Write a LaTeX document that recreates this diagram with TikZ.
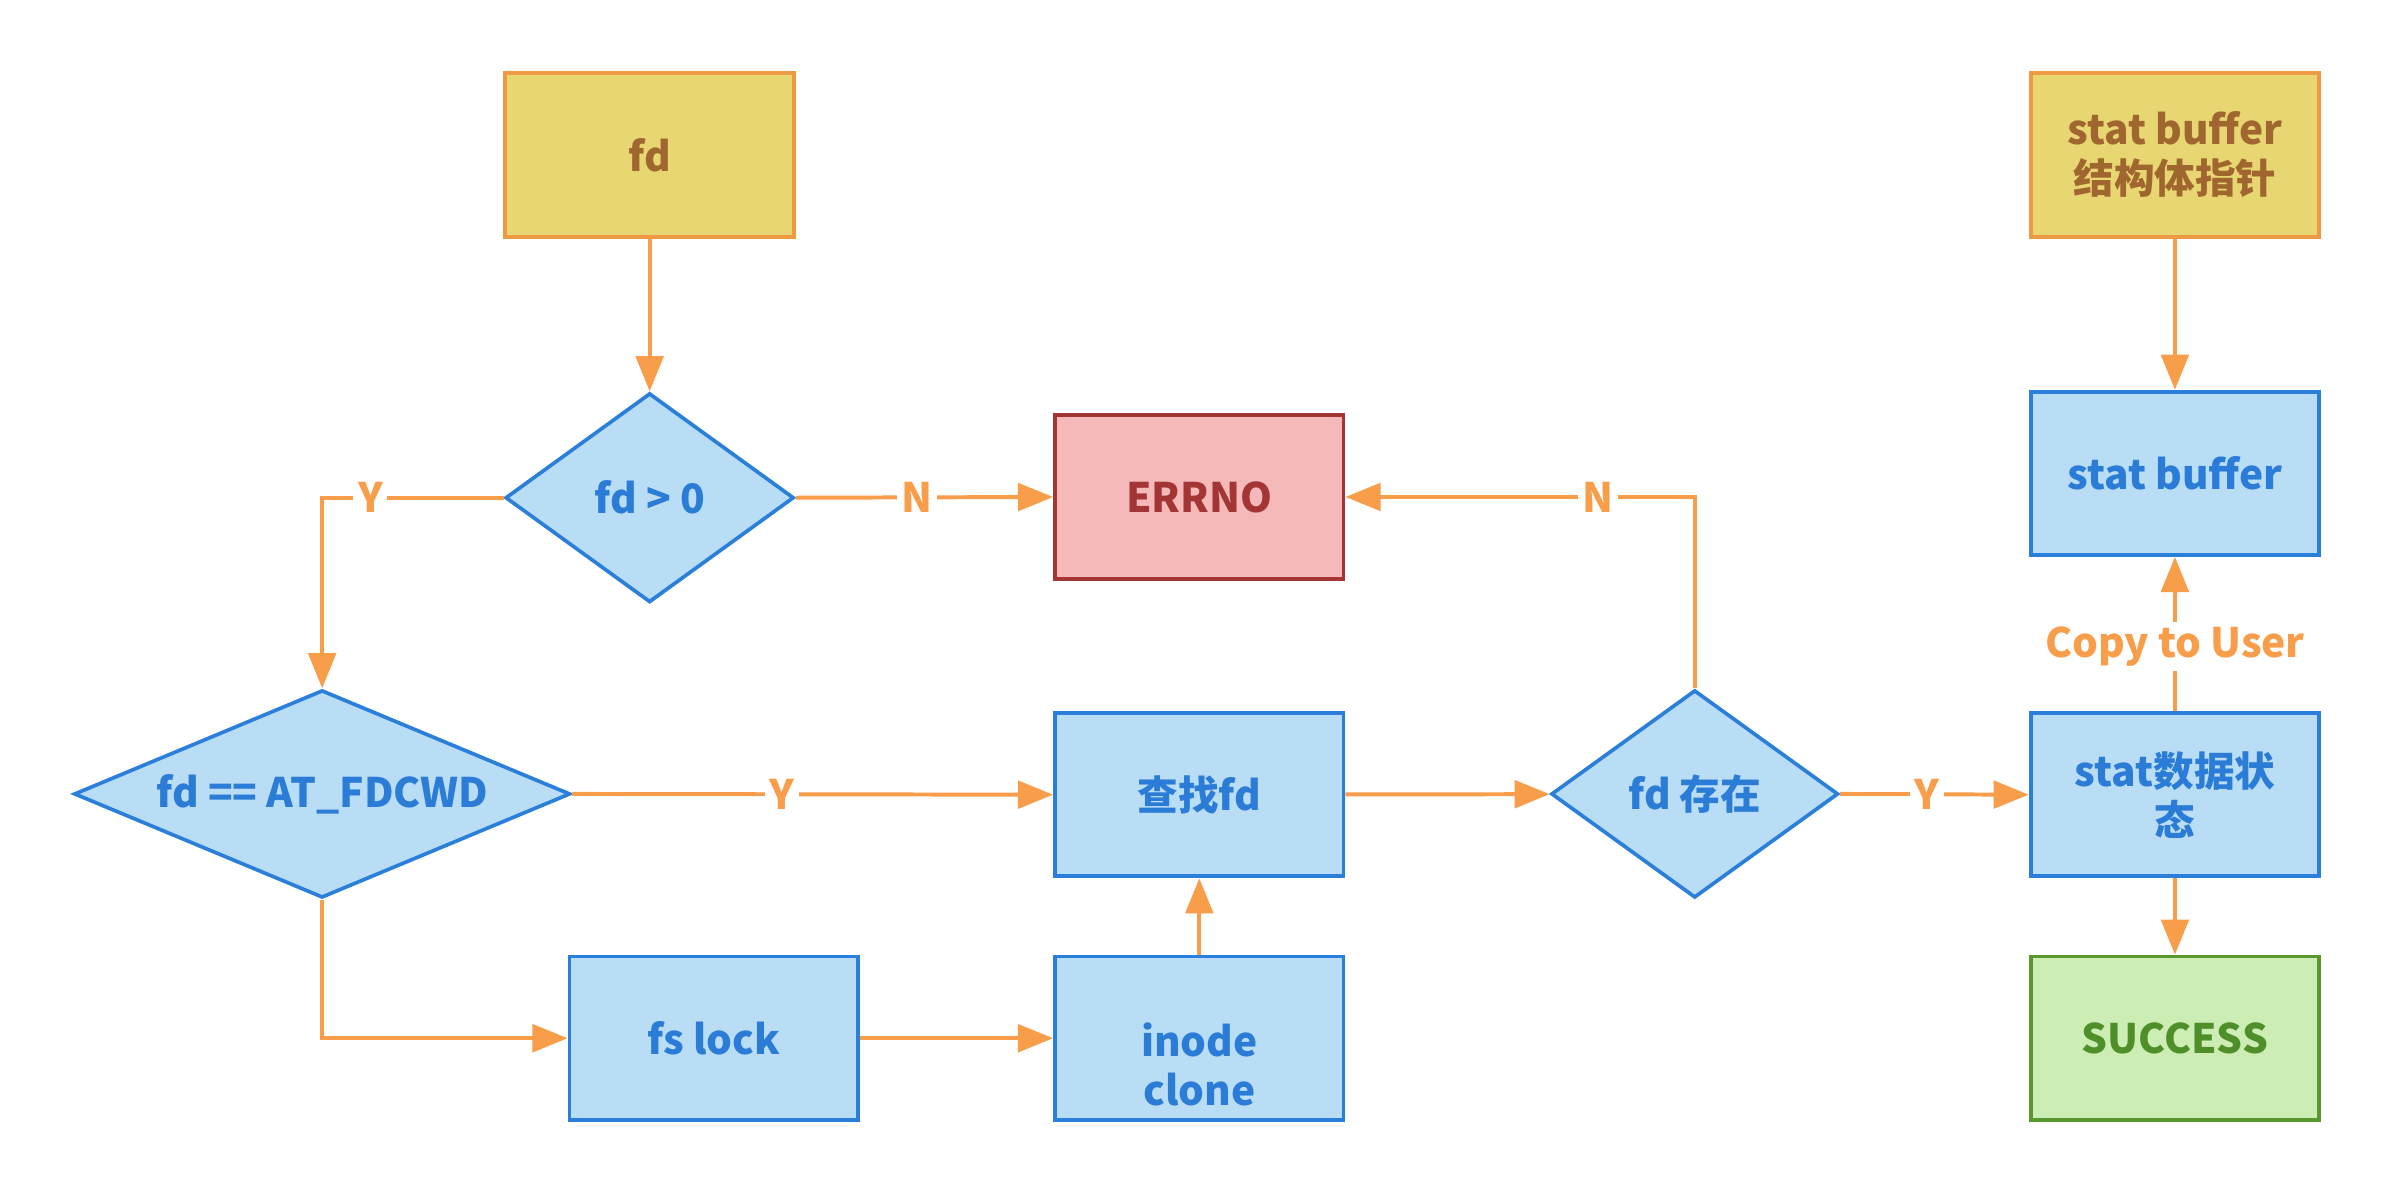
\documentclass[tikz,border=0pt]{standalone}
\usepackage{fontspec}
\setmainfont{Noto Sans CJK SC}
\usetikzlibrary{shapes.geometric,arrows.meta}
\definecolor{lineor}{HTML}{F89D49}
\definecolor{bfill}{HTML}{BADDF6}
\definecolor{bline}{HTML}{2A7FDA}
\definecolor{btext}{HTML}{2B7CD6}
\definecolor{yfill}{HTML}{E8D672}
\definecolor{yline}{HTML}{EE9A44}
\definecolor{ytext}{HTML}{A0662F}
\definecolor{pfill}{HTML}{F4B9B8}
\definecolor{pline}{HTML}{A43535}
\definecolor{gfill}{HTML}{CCEDB4}
\definecolor{gline}{HTML}{5A982F}
\definecolor{gtext}{HTML}{4E8F2A}
\begin{document}
\begin{tikzpicture}[x=0.5pt,y=-0.5pt,
  font=\bfseries\fontsize{13.3}{16}\selectfont,
  conn/.style={draw=lineor, line width=1.3pt, -{Triangle[length=11.5pt,width=9pt]}},
  box/.style={rectangle, minimum width=94.5pt, minimum height=53.5pt, line width=1.25pt, align=center, inner sep=0pt},
  bluebox/.style={box, fill=bfill, draw=bline, text=btext},
  dia/.style={diamond, fill=bfill, draw=bline, text=btext, line width=1.2pt, inner sep=0pt},
  lab/.style={fill=white, text=lineor, inner sep=1.5pt}]
\useasboundingbox (0,0) rectangle (1568,782);
% nodes
\node[box, fill=yfill, draw=yline, text=ytext] (fd) at (425.5,101.5) {fd};
\node[dia, shape aspect=1.4, minimum width=94.5pt, minimum height=68.5pt] (d1) at (425.5,326) {fd > 0};
\node[box, fill=pfill, draw=pline, text=pline] (errno) at (785.5,325.5) {ERRNO};
\node[dia, shape aspect=2.4, minimum width=162.5pt, minimum height=68pt] (d2) at (211,520) {fd == AT\_FDCWD};
\node[bluebox] (find) at (785.5,520.5) {查找fd};
\node[dia, shape aspect=1.4, minimum width=94pt, minimum height=68pt] (d3) at (1110,520) {fd 存在};
\node[bluebox] (statdata) at (1424.5,520.5) {stat数据状\\态};
\node[box, fill=yfill, draw=yline, text=ytext] (structp) at (1424.5,101.5) {stat buffer\\结构体指针};
\node[bluebox] (statbuf) at (1424.5,310) {stat buffer};
\node[box, fill=gfill, draw=gline, text=gtext] (success) at (1424.5,680) {SUCCESS};
\node[bluebox] (fslock) at (467.5,680) {fs lock};
\node[bluebox] (inode) at (785.5,680) {};
\node[text=btext, align=center] (inodetext) at (785.5,697) {inode\\clone};
% connectors
\draw[conn] (fd) -- (d1);
\draw[conn] (d1.west) -| (d2.north) node[lab, pos=0.367] {Y};
\draw[conn] (d1.east) -- (errno.west) node[lab, pos=0.47] {N};
\draw[conn] (d2.east) -- (find.west) node[lab, pos=0.437] {Y};
\draw[conn] (d2.south) |- (fslock.west);
\draw[conn] (fslock) -- (inode);
\draw[conn] (inode) -- (find);
\draw[conn] (find) -- (d3);
\draw[conn] (d3.north) |- (errno.east) node[lab, pos=0.639] {N};
\draw[conn] (d3.east) -- (statdata.west) node[lab, pos=0.46] {Y};
\draw[conn] (statdata) -- (statbuf) node[lab, pos=0.42] {Copy to User};
\draw[conn] (statdata) -- (success);
\draw[conn] (structp) -- (statbuf);
\end{tikzpicture}
\end{document}
